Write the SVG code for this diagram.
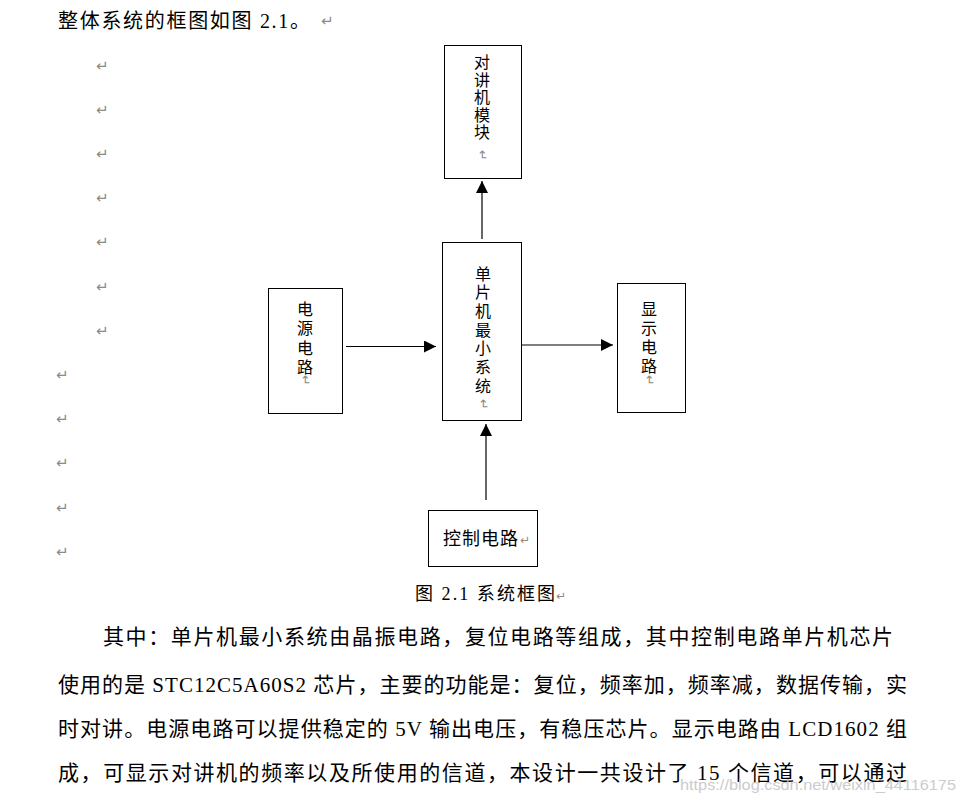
<svg xmlns="http://www.w3.org/2000/svg" width="963" height="802" viewBox="0 0 963 802">
<style>
.bg{fill:#ffffff}
.box{fill:#ffffff;stroke:#000000;stroke-width:1}
.conn{stroke:#000000;stroke-width:1.2;fill:none}
.t{font-family:"Liberation Serif","Noto Sans CJK SC",serif;fill:#000000}
.cjk{font-family:"Noto Sans CJK SC",sans-serif;fill:#000000}
.ret{font-family:"DejaVu Sans",sans-serif;fill:#8a8a8a;font-size:15px}
.rv{font-family:"DejaVu Sans",sans-serif;fill:#8a8a8a;font-size:13px}
.vt{font-family:"Noto Sans CJK SC",sans-serif;fill:#000000;font-size:16px;writing-mode:vertical-rl;text-orientation:upright}
.wm{font-family:"Liberation Sans",sans-serif;fill:#c4c4c4;font-size:14px}
</style>
<defs>
<marker id="ah" viewBox="0 0 12 12" refX="12" refY="6" markerWidth="12" markerHeight="12" markerUnits="userSpaceOnUse" orient="auto">
<path d="M0,0 L12,6 L0,12 Z" fill="#000000"/>
</marker>
</defs>
<rect class="bg" x="0" y="0" width="963" height="802"/>

<g id="title">
<text class="t" x="58" y="28" font-size="20" textLength="252" lengthAdjust="spacing">整体系统的框图如图 2.1。</text>
<text class="ret" x="321" y="26">↵</text>
</g>

<g id="margin-marks">
<text class="ret" x="96" y="71">↵</text>
<text class="ret" x="96" y="115">↵</text>
<text class="ret" x="96" y="159">↵</text>
<text class="ret" x="96" y="203">↵</text>
<text class="ret" x="96" y="247">↵</text>
<text class="ret" x="96" y="292">↵</text>
<text class="ret" x="96" y="336">↵</text>
<text class="ret" x="56" y="380">↵</text>
<text class="ret" x="56" y="424">↵</text>
<text class="ret" x="56" y="468">↵</text>
<text class="ret" x="56" y="513">↵</text>
<text class="ret" x="56" y="557">↵</text>
</g>

<g id="connectors">
<line class="conn" x1="482" y1="239" x2="482" y2="181" marker-end="url(#ah)"/>
<line class="conn" x1="346" y1="346.5" x2="436" y2="346.5" marker-end="url(#ah)"/>
<line class="conn" x1="522" y1="345" x2="613" y2="345" marker-end="url(#ah)"/>
<line class="conn" x1="486" y1="500" x2="486" y2="424" marker-end="url(#ah)"/>
</g>

<g id="node-intercom">
<rect class="box" x="444.5" y="45.5" width="77" height="133"/>
<text class="vt" x="482" y="54" letter-spacing="1.5">对讲机模块</text>
<text class="rv" transform="translate(478,150) rotate(90)">↵</text>
</g>

<g id="node-mcu">
<rect class="box" x="442.5" y="242.5" width="79" height="178"/>
<text class="vt" x="483" y="265.5" letter-spacing="2.7">单片机最小系统</text>
<text class="rv" transform="translate(479,399) rotate(90)">↵</text>
</g>

<g id="node-power">
<rect class="box" x="268.5" y="288.5" width="74" height="125"/>
<text class="vt" x="305" y="300.5" letter-spacing="3.5">电源电路</text>
<text class="rv" transform="translate(301,375) rotate(90)">↵</text>
</g>

<g id="node-display">
<rect class="box" x="617.5" y="283.5" width="68" height="129"/>
<text class="vt" x="649" y="301" letter-spacing="3">显示电路</text>
<text class="rv" transform="translate(645,375) rotate(90)">↵</text>
</g>

<g id="node-control">
<rect class="box" x="428.5" y="510.5" width="109" height="56"/>
<text class="cjk" x="443" y="545" font-size="18" letter-spacing="1">控制电路</text>
<text class="ret" x="520" y="544" style="font-size:12px">↵</text>
</g>

<g id="caption">
<text class="t" x="415" y="600" font-size="18" textLength="140" lengthAdjust="spacing">图 2.1 系统框图</text>
<text class="ret" x="556" y="600" style="font-size:12px">↵</text>
</g>

<g id="paragraph">
<text class="t" x="103" y="644" font-size="21" textLength="790" lengthAdjust="spacing">其中：单片机最小系统由晶振电路，复位电路等组成，其中控制电路单片机芯片</text>
<text class="t" x="58" y="692" font-size="21" textLength="849" lengthAdjust="spacing">使用的是 STC12C5A60S2 芯片，主要的功能是：复位，频率加，频率减，数据传输，实</text>
<text class="t" x="58" y="736" font-size="21" textLength="849" lengthAdjust="spacing">时对讲。电源电路可以提供稳定的 5V 输出电压，有稳压芯片。显示电路由 LCD1602 组</text>
<text class="t" x="58" y="780" font-size="21" textLength="849" lengthAdjust="spacing">成，可显示对讲机的频率以及所使用的信道，本设计一共设计了 15 个信道，可以通过</text>
</g>

<g id="watermark">
<text class="wm" x="680" y="790" textLength="276" lengthAdjust="spacingAndGlyphs" opacity="0.85">https://blog.csdn.net/weixin_44116175</text>
</g>
</svg>
